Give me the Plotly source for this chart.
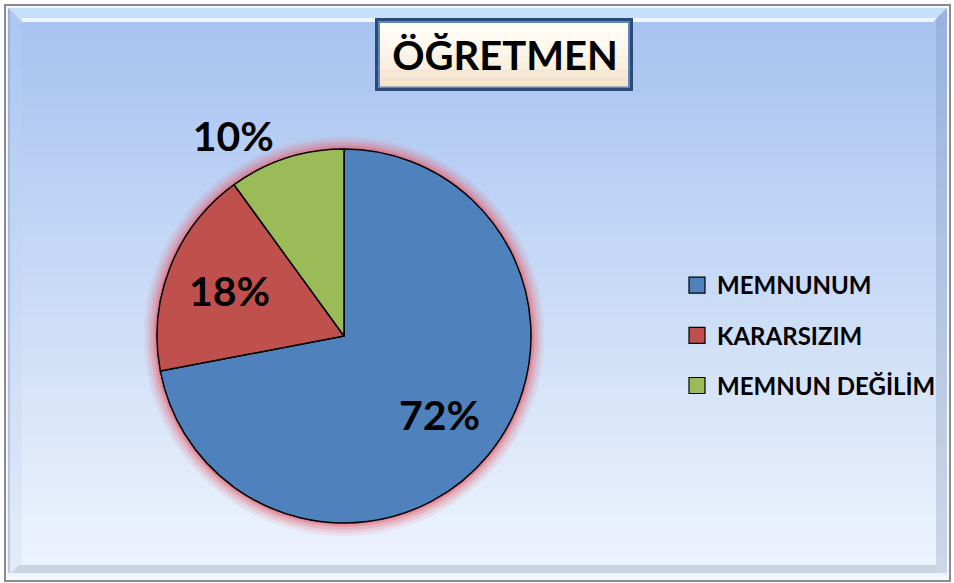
import math
import plotly.graph_objects as go

W, H = 954, 583

# ---- data ----
categories = ["MEMNUNUM", "KARARSIZIM", "MEMNUN DEĞİLİM"]
values = [72, 18, 10]
colors = ["#4F81BD", "#C0504D", "#9BBB59"]
label_inside = [True, True, False]
title_text = "ÖĞRETMEN"

FONT = "Lato"


def px(x):
    return x / W


def py(y):
    return 1 - y / H


def path(points):
    return "M " + " L ".join(f"{px(x):.5f},{py(y):.5f}" for x, y in points) + " Z"


def lerp(c1, c2, t):
    return "rgb(%d,%d,%d)" % tuple(round(a + (b - a) * t) for a, b in zip(c1, c2))


cx, cy, r = 344, 336, 187


def pie_domain(rad):
    return dict(x=[px(cx - rad), px(cx + rad)], y=[py(cy + rad), py(cy - rad)])


total = sum(values)
pct_text = [f"{v / total * 100:.0f}%" for v in values]

fig = go.Figure()

# glow behind the pie
for extra, alpha in [(13, 0.10), (10, 0.15), (7, 0.22), (4, 0.32), (2, 0.4)]:
    fig.add_trace(go.Pie(
        values=[1], labels=["glow"], sort=False, showlegend=False,
        marker=dict(colors=[f"rgba(228,100,115,{alpha})"], line=dict(width=0)),
        textinfo="none", hoverinfo="skip", domain=pie_domain(r + extra),
    ))

fig.add_trace(go.Pie(
    labels=categories, values=values, sort=False, direction="clockwise", rotation=0,
    marker=dict(colors=colors, line=dict(color="black", width=1.5)),
    text=pct_text, textinfo="text",
    textposition=["none" if ins else "outside" for ins in label_inside],
    textfont=dict(family=FONT, size=41, color="black", weight="bold"),
    showlegend=False, domain=pie_domain(r),
))

# inside labels placed on each slice's bisector
annotations = []
cum = 0
for v, t, ins in zip(values, pct_text, label_inside):
    mid = (cum + v / 2) / total * 2 * math.pi
    cum += v
    if not ins:
        continue
    rr = 0.66 * r
    ax = cx + rr * math.sin(mid)
    ay = cy - rr * math.cos(mid)
    annotations.append(dict(x=px(ax), y=py(ay), xref="paper", yref="paper", text=t, showarrow=False,
                            xanchor="center", yanchor="middle",
                            font=dict(family=FONT, size=41, color="black", weight="bold")))

# legend entries
for cat, col in zip(categories, colors):
    fig.add_trace(go.Scatter(
        x=[None], y=[None], mode="markers", name=cat, legendgroup=cat,
        marker=dict(symbol="square", size=16, color=col, line=dict(color="black", width=1.2)),
        hoverinfo="skip",
    ))

shapes = []
# outer frame
shapes.append(dict(type="rect", xref="paper", yref="paper", x0=px(5), x1=px(950), y0=py(581), y1=py(5),
                   line=dict(color="#8C8C8C", width=2), fillcolor="#F4F7FB", layer="below"))
# gradient background
top_c, bot_c = (166, 194, 240), (238, 244, 253)
y0, y1 = 8, 576
n = 57
for i in range(n):
    ya = y0 + (y1 - y0) * i / n
    yb = y0 + (y1 - y0) * (i + 1) / n + 0.6
    shapes.append(dict(type="rect", xref="paper", yref="paper", x0=px(8), x1=px(947), y0=py(yb), y1=py(ya),
                       line=dict(width=0), fillcolor=lerp(top_c, bot_c, i / (n - 1)), layer="below"))
# bevels
shapes.append(dict(type="path", xref="paper", yref="paper", path=path([(8, 8), (947, 8), (933, 22), (22, 22)]),
                   fillcolor="rgba(205,228,252,0.85)", line=dict(width=0), layer="below"))
shapes.append(dict(type="path", xref="paper", yref="paper", path=path([(22, 18), (937, 18), (933, 22), (22, 22)]),
                   fillcolor="rgba(240,250,255,0.9)", line=dict(width=0), layer="below"))
shapes.append(dict(type="path", xref="paper", yref="paper", path=path([(8, 8), (22, 22), (22, 562), (8, 576)]),
                   fillcolor="rgba(190,210,240,0.25)", line=dict(width=0), layer="below"))
shapes.append(dict(type="path", xref="paper", yref="paper", path=path([(8, 8), (10, 10), (10, 574), (8, 576)]),
                   fillcolor="rgba(120,140,180,0.35)", line=dict(width=0), layer="below"))
shapes.append(dict(type="path", xref="paper", yref="paper", path=path([(947, 8), (947, 576), (936, 565), (936, 19)]),
                   fillcolor="rgba(120,140,175,0.28)", line=dict(width=0), layer="below"))
shapes.append(dict(type="path", xref="paper", yref="paper", path=path([(8, 576), (947, 576), (936, 565), (19, 565)]),
                   fillcolor="rgba(140,150,170,0.35)", line=dict(width=0), layer="below"))
shapes.append(dict(type="rect", xref="paper", yref="paper", x0=px(8), x1=px(947), y0=py(576), y1=py(573),
                   fillcolor="rgba(240,245,252,0.9)", line=dict(width=0), layer="below"))

# title box
shapes.append(dict(type="rect", xref="paper", yref="paper", x0=px(375), x1=px(633), y0=py(91), y1=py(18),
                   fillcolor="#2C4A78", line=dict(width=0), layer="below"))
shapes.append(dict(type="rect", xref="paper", yref="paper", x0=px(378), x1=px(630), y0=py(88), y1=py(21),
                   fillcolor="#5F86BE", line=dict(width=0), layer="below"))
cream_top, cream_bot = (255, 252, 245), (246, 228, 204)
for i in range(8):
    ya = 23 + 63 * i / 8
    yb = 23 + 63 * (i + 1) / 8 + 0.5
    shapes.append(dict(type="rect", xref="paper", yref="paper", x0=px(380), x1=px(628), y0=py(yb), y1=py(ya),
                       fillcolor=lerp(cream_top, cream_bot, (i / 7) ** 1.5), line=dict(width=0), layer="below"))

fig.update_layout(
    width=W, height=H,
    margin=dict(l=0, r=0, t=0, b=0),
    paper_bgcolor="white", plot_bgcolor="rgba(0,0,0,0)",
    xaxis=dict(visible=False), yaxis=dict(visible=False),
    shapes=shapes,
    annotations=annotations,
    title=dict(text=title_text, x=px(505), y=py(56), xref="paper", yref="paper",
               xanchor="center", yanchor="middle",
               font=dict(family=FONT, size=40, color="black", weight="bold")),
    legend=dict(x=px(677), y=py(263), xanchor="left", yanchor="top",
                font=dict(family=FONT, size=24, color="black", weight="bold"),
                bgcolor="rgba(0,0,0,0)", tracegroupgap=16, itemclick=False),
    hovermode=False,
)

fig.write_html("out.html", config={"displayModeBar": False},
               post_script="document.body.style.margin='0';document.body.style.overflow='hidden';")
